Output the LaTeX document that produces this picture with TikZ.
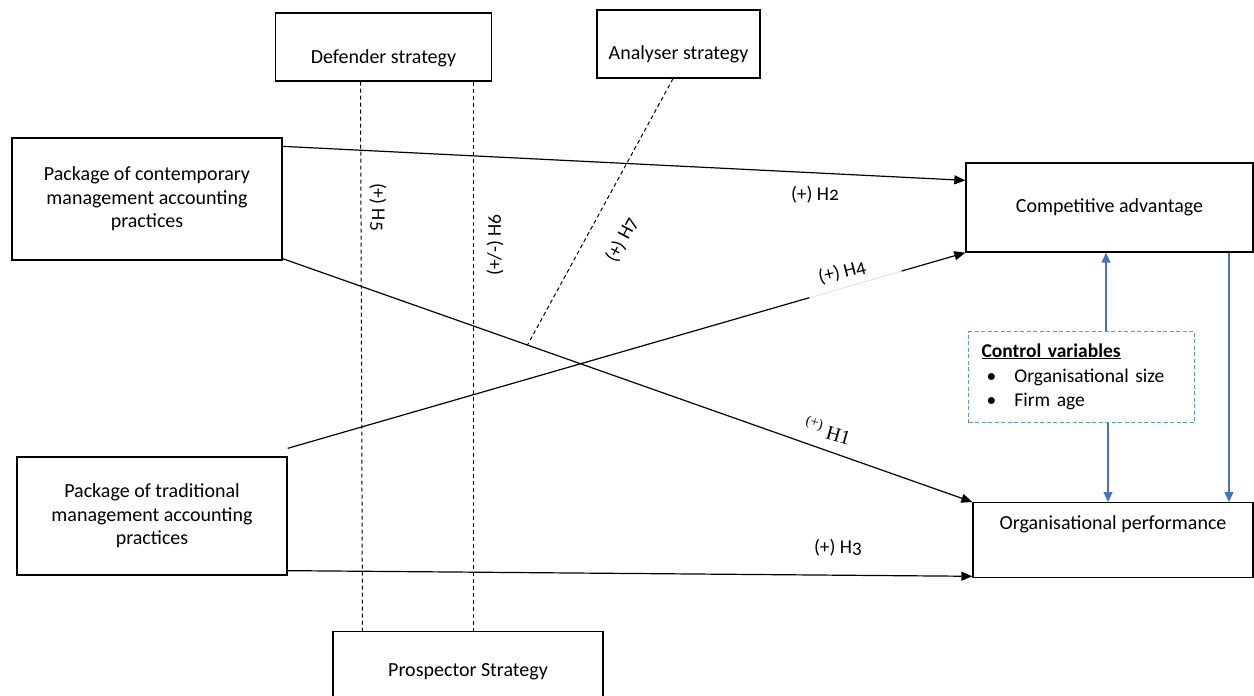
\documentclass[tikz,border=0pt]{standalone}
\usepackage{fontspec}
\setmainfont{Carlito}
\newfontfamily\labfont{Carlito}[Numbers=OldStyle]
\newfontfamily\serifH{Liberation Serif}
\usetikzlibrary{arrows.meta}
\definecolor{arrowblue}{HTML}{4472C4}
\definecolor{boxblue}{HTML}{5B9BD5}
\begin{document}
\begin{tikzpicture}[x=1pt,y=-1pt,
  box/.style={draw=black,line width=1.3pt,fill=white,inner sep=0pt,align=center,
    font=\fontsize{20}{23.5}\selectfont},
  conn/.style={line width=1.2pt,-{Triangle[length=11pt,width=9pt]}},
  plainline/.style={line width=1.2pt},
  dline/.style={line width=1pt,dash pattern=on 4pt off 3pt},
  bluearrow/.style={draw=arrowblue,line width=1.2pt,-{Triangle[length=10pt,width=9pt]}},
  lab/.style={font=\labfont\fontsize{19.5}{22}\selectfont,inner sep=1pt}]
\useasboundingbox (0,0) rectangle (1254,696);

% boxes
\node[box,minimum width=216,minimum height=68] (def) at (383.5,47) {\raisebox{-16pt}[0pt][0pt]{Defender strategy}};
\node[box,minimum width=163,minimum height=68] (ana) at (678.5,44) {\raisebox{-15pt}[0pt][0pt]{Analyser strategy}};
\node[box,minimum width=270,minimum height=122] (cont) at (147,199) {Package of contemporary\\management accounting\\practices};
\node[box,minimum width=270,minimum height=118] (trad) at (152,516) {Package of traditional\\management accounting\\practices};
\node[box,minimum width=270,minimum height=80,anchor=north] (pros) at (468,631) {Prospector Strategy};
\node[box,minimum width=287,minimum height=89] (comp) at (1109.5,207.5) {Competitive advantage};
\node[box,minimum width=280,minimum height=75,anchor=north] (perf) at (1113,502) {\raisebox{11pt}[0pt][0pt]{Organisational performance}};
\node[draw=boxblue,line width=1pt,dash pattern=on 4pt off 2.5pt,anchor=north west,
  minimum height=91,text width=200pt,inner xsep=13pt,align=left,
  font=\fontsize{19.5}{24.5}\selectfont] (ctrl) at (968,331)
  {\renewcommand{\arraystretch}{1.02}\begin{tabular}{@{}l@{}}
   \textbf{\underline{Control variables}}\\
   \makebox[33pt][l]{\hspace{5pt}\textbullet}Organisational size\\
   \makebox[33pt][l]{\hspace{5pt}\textbullet}Firm age
   \end{tabular}};

% coordinates for connector ends
\coordinate (s2) at ([yshift=-9pt]cont.north east);
\coordinate (e2) at ([yshift=-18pt]comp.north west);
\coordinate (s1) at ([yshift=2pt]cont.south east);
\coordinate (s4) at ([yshift=8pt]trad.north east);
\coordinate (s3) at ([yshift=5pt]trad.south east);
\coordinate (e3) at ([yshift=2pt]perf.south west);

% H2
\draw[conn] (s2) -- (e2);
% H1
\draw[conn] (s1) -- coordinate[pos=0.355] (h7end) (perf.north west);
% H4 with gap
\path (s4) -- coordinate[pos=0.770] (g1) coordinate[pos=0.906] (g2) (comp.south west);
\draw[plainline] (s4) -- (g1);
\draw[gray!35,line width=0.5pt] (g1) -- (g2);
\draw[conn] (g2) -- (comp.south west);
% H3
\draw[conn] (s3) -- (e3);

% dashed moderator lines
\draw[dline] (def.south -| 360.5,0) -- (pros.north -| 362.5,0);
\draw[dline] (def.south -| 473.5,0) -- (pros.north -| 473.5,0);
\draw[dline] (ana.south -| 673,0) -- (h7end);

% blue arrows
\draw[bluearrow] ([xshift=24.5pt]ctrl.north) -- ([xshift=24.5pt]ctrl.north |- comp.south);
\draw[bluearrow] ([xshift=26.5pt]ctrl.south) -- ([xshift=26.5pt]ctrl.south |- perf.north);
\draw[bluearrow] ([xshift=119.5pt]comp.south) -- ([xshift=119.5pt]comp.south |- perf.north);

% labels
\node[lab] (l2) at (815,195) {(+) H2};
\node[lab] (l3) at (838,548) {(+) H3};
\node[lab,rotate=14] (l4) at (842,272) {(+) H4};
\node[font=\serifH\fontsize{20}{22}\selectfont,rotate=-16,inner sep=1pt] (l1) at (828,430) {\textsuperscript{(+)} H1};
\node[lab,rotate=-90] (l5) at (378,207) {(+) H5};
\node[lab,rotate=90] (l6) at (495,245) {(+/-) H6};
\node[lab,rotate=62] (l7) at (622,240) {(+) H7};
\end{tikzpicture}
\end{document}
